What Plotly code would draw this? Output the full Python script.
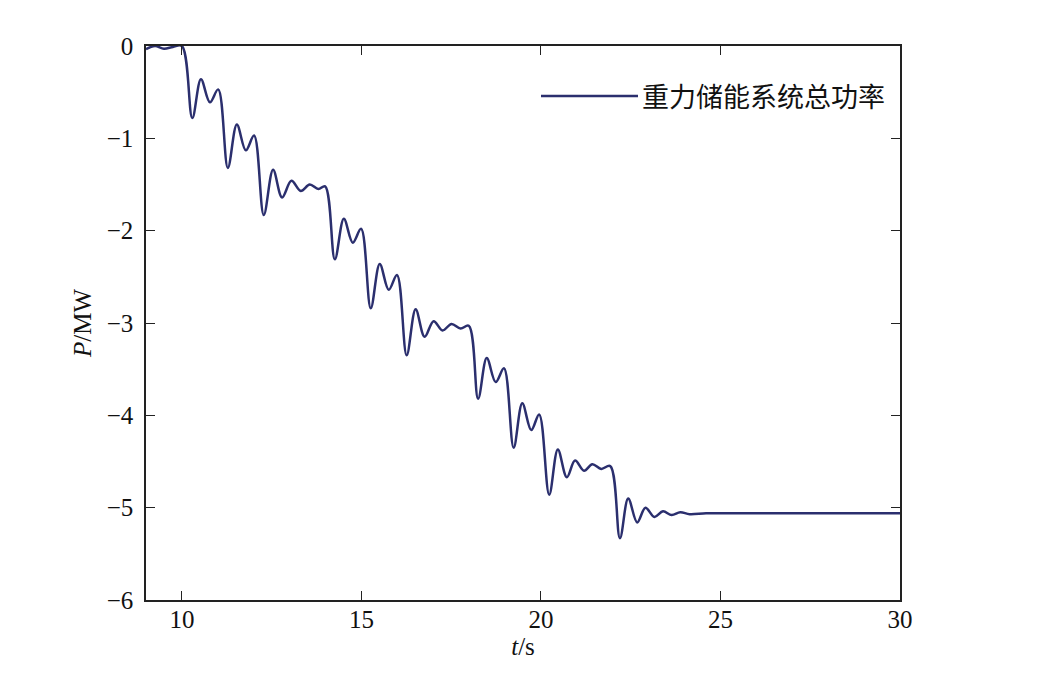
import plotly.graph_objects as go

# time (s) and total power (MW) at curve extremes
t = [9.0, 9.25, 9.5, 9.75, 10.0,
     10.29, 10.53, 10.78, 11.01,
     11.28, 11.53, 11.78, 12.01,
     12.28, 12.54, 12.79, 13.05, 13.31, 13.56, 13.80, 13.99,
     14.26, 14.51, 14.76, 14.99,
     15.26, 15.51, 15.76, 15.99,
     16.26, 16.51, 16.76, 17.01, 17.26, 17.51, 17.76, 17.99,
     18.25, 18.49, 18.74, 18.97,
     19.24, 19.48, 19.73, 19.95,
     20.23, 20.47, 20.72, 20.95, 21.20, 21.43, 21.68, 21.93,
     22.20, 22.43, 22.68, 22.91, 23.16, 23.40, 23.64, 23.88, 24.14,
     24.6, 25.2, 26.0, 28.0, 30.0]
p = [-0.035, 0.0, -0.03, -0.01, 0.0,
     -0.78, -0.36, -0.61, -0.47,
     -1.32, -0.85, -1.13, -0.97,
     -1.83, -1.34, -1.64, -1.46, -1.57, -1.50, -1.55, -1.52,
     -2.31, -1.87, -2.13, -1.98,
     -2.84, -2.36, -2.64, -2.48,
     -3.35, -2.85, -3.15, -2.98, -3.08, -3.01, -3.06, -3.03,
     -3.82, -3.38, -3.64, -3.49,
     -4.35, -3.87, -4.16, -3.99,
     -4.86, -4.37, -4.67, -4.49, -4.60, -4.53, -4.58, -4.55,
     -5.33, -4.90, -5.16, -5.00, -5.10, -5.04, -5.08, -5.05, -5.07,
     -5.06, -5.06, -5.06, -5.06, -5.06]

x_ticks = [10, 15, 20, 25, 30]
y_ticks = [0, -1, -2, -3, -4, -5, -6]
legend_label = "重力储能系统总功率"

line_color = "#2b2f6e"
axis_color = "#222222"
font_serif = "Liberation Serif, Times New Roman, serif"

# plot area in page pixels (page has an 8px body margin)
PL, PR, PT, PB = 146, 900, 46, 600
PW, PH = PR - PL, PB - PT

fig = go.Figure()
fig.add_trace(go.Scatter(
    x=t, y=p, mode="lines",
    line=dict(color=line_color, width=2.5, shape="spline", smoothing=1.0),
    showlegend=False, name=legend_label,
))

# manual legend (long line sample + label)
ly = (PB - 96) / PH
fig.add_shape(type="line", xref="paper", yref="paper",
              x0=(541 - PL) / PW, x1=(638 - PL) / PW, y0=ly, y1=ly,
              line=dict(color=line_color, width=2.5))
fig.add_annotation(xref="paper", yref="paper",
                   x=(640 - PL) / PW, y=ly,
                   xanchor="left", yanchor="middle", showarrow=False,
                   text=legend_label,
                   font=dict(family="Noto Sans CJK SC", size=27, color="#111111"))

axis_common = dict(
    showgrid=False, zeroline=False, showline=True, linecolor=axis_color, linewidth=1.5,
    mirror="ticks", ticks="inside", ticklen=9, tickwidth=1.2, tickcolor=axis_color,
    tickfont=dict(family=font_serif, size=25, color="#111111"),
)

fig.update_xaxes(range=[9, 30], tickvals=x_ticks, ticktext=[str(v) for v in x_ticks],
                 ticklabelstandoff=-4,
                 title=dict(text="<i>t</i>/s", font=dict(family=font_serif, size=25, color="#111111"),
                            standoff=0),
                 **axis_common)
fig.update_yaxes(range=[-6, 0], tickvals=y_ticks,
                 ticktext=["0" if v == 0 else "\u2212" + str(-v) for v in y_ticks],
                 ticklabelstandoff=6,
                 title=dict(text="<i>P</i>/MW", font=dict(family=font_serif, size=25, color="#111111"),
                            standoff=8),
                 **axis_common)

fig.update_layout(
    width=1039, height=681,
    margin=dict(l=PL - 8, r=1039 + 8 - PR, t=PT - 8, b=681 + 8 - PB),
    plot_bgcolor="white", paper_bgcolor="white",
)

fig.write_html("out.html")
